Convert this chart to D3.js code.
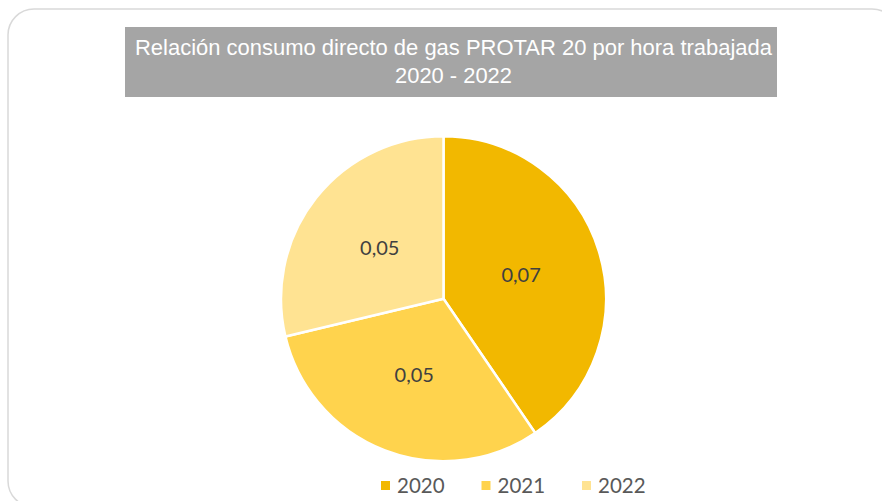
<!DOCTYPE html>
<html>
<head>
<meta charset="utf-8">
<script src="https://cdn.jsdelivr.net/npm/d3@7"></script>
<style>
  body { margin: 0; background: #fff; }
  svg { display: block; }
</style>
</head>
<body>
<svg id="chart" width="882" height="501"></svg>
<script>
let years = ["2020", "2021", "2022"];
let values = [0.0676, 0.0515, 0.048];
let colors = ["#F2B800", "#FFD34D", "#FFE392"];
let titleLines = ["Relación consumo directo de gas PROTAR 20 por hora trabajada", "2020 - 2022"];

let svg = d3.select("#chart");

// outer frame
svg.append("rect")
	.attr("x", 8).attr("y", 9)
	.attr("width", 890).attr("height", 498)
	.attr("rx", 26).attr("ry", 26)
	.style("fill", "#fff")
	.style("stroke", "#d9d9d9")
	.style("stroke-width", 1.5);

// title box
svg.append("rect")
	.attr("x", 125).attr("y", 27)
	.attr("width", 652).attr("height", 70)
	.style("fill", "#A5A5A5");

// narrow title font: squeeze to the widths measured on the picture
let titleWidths = [637, 117];
svg.selectAll("text.title")
	.data(titleLines)
	.enter().append("text")
	.attr("class", "title")
	.attr("x", 453.5)
	.attr("y", (d, i) => 54.5 + i * 28.5)
	.attr("text-anchor", "middle")
	.attr("textLength", (d, i) => titleWidths[i])
	.attr("lengthAdjust", "spacingAndGlyphs")
	.style("font-family", "'Liberation Sans Narrow', 'Liberation Sans', Arial, sans-serif")
	.style("font-size", "22.5px")
	.style("fill", "#fff")
	.text(d => d);

let cx = 443.5, cy = 298.8, r = 162.5;

let pie = d3.pie().sort(null).value(d => d)(values);
let arc = d3.arc().innerRadius(0).outerRadius(r);

let g = svg.append("g").attr("transform", `translate(${cx},${cy})`);

g.selectAll("path")
	.data(pie)
	.enter().append("path")
	.attr("d", arc)
	.style("fill", (d, i) => colors[i])
	.style("stroke", "#fff")
	.style("stroke-width", 2.5)
	.style("stroke-linejoin", "round");

let fmt = d3.format(".2f");
g.selectAll("text")
	.data(pie)
	.enter().append("text")
	.attr("transform", d => `translate(${arc.centroid(d)})`)
	.attr("text-anchor", "middle")
	.attr("dy", "0.35em")
	.style("font-family", "Lato, 'Open Sans', sans-serif")
	.style("font-size", "20px")
	.style("fill", "#404040")
	.text(d => fmt(d.data).replace(".", ","));

// legend
let legendX = d3.scalePoint().domain(years).range([381, 582]);
let lg = svg.selectAll("g.legend")
	.data(years)
	.enter().append("g")
	.attr("class", "legend")
	.attr("transform", d => `translate(${legendX(d)},486)`);
lg.append("rect")
	.attr("x", 0).attr("y", -5)
	.attr("width", 9).attr("height", 9)
	.style("fill", (d, i) => colors[i]);
lg.append("text")
	.attr("x", 16)
	.attr("dy", "0.35em")
	.style("font-family", "Lato, 'Open Sans', sans-serif")
	.style("font-size", "20.5px")
	.style("fill", "#595959")
	.text(d => d);
</script>
</body>
</html>
